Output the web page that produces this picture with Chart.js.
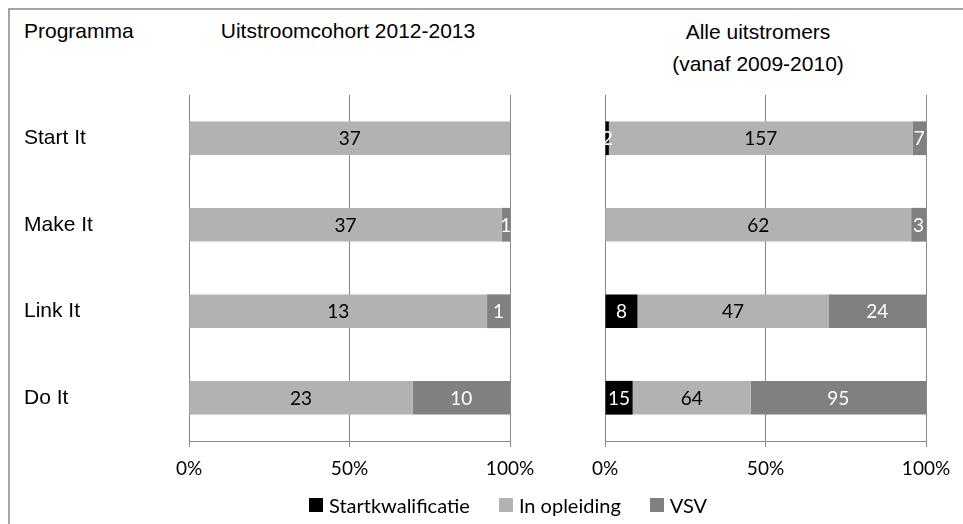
<!DOCTYPE html>
<html>
<head>
<meta charset="utf-8">
<script src="https://cdn.jsdelivr.net/npm/chart.js@4.4.1/dist/chart.umd.min.js"></script>
<style>
  body { margin: 0; background: #fff; }
  #wrap { position: relative; width: 963px; height: 524px; background: #fff; overflow: hidden; }
  #frame { position: absolute; left: 8px; top: 8px; width: 1000px; height: 600px;
           border-top: 2px solid #a6a6a6; border-left: 2px solid #a6a6a6; }
  .hdr { position: absolute; font-family: "Liberation Sans", Arial, sans-serif; font-size: 21px;
         color: #000; white-space: nowrap; line-height: 24px; transform: translate(-50%, -50%); }
  .hdr.left { transform: translate(0, -50%); }
  canvas { position: absolute; top: 0; }
  #legend { position: absolute; left: 309px; top: 493px; display: flex; align-items: center;
            font-family: Lato, sans-serif; font-size: 20px; color: #000; white-space: nowrap; }
  #legend .item { display: flex; align-items: center; margin-right: 29px; }
  #legend .sw { width: 14px; height: 14px; margin-right: 6px; }
</style>
</head>
<body>
<div id="wrap">
  <div id="frame"></div>
  <div class="hdr left" style="left:24px; top:31px;">Programma</div>
  <div class="hdr" style="left:348px; top:31px;">Uitstroomcohort 2012-2013</div>
  <div class="hdr" style="left:758px; top:32px;">Alle uitstromers</div>
  <div class="hdr" style="left:758px; top:64px;">(vanaf 2009-2010)</div>
  <canvas id="leftChart" width="560" height="524" style="left:0px;"></canvas>
  <canvas id="rightChart" width="403" height="524" style="left:560px;"></canvas>
  <div id="legend"></div>
</div>
<script>
var categories = ['Start It', 'Make It', 'Link It', 'Do It'];
var seriesNames = ['Startkwalificatie', 'In opleiding', 'VSV'];
var seriesColors = ['#000000', '#b2b2b2', '#808080'];
var labelColors = ['#ffffff', '#000000', '#ffffff'];
var tickLabels = ['0%', '50%', '100%'];

// Uitstroomcohort 2012-2013
var cohortStart = [0, 0, 0, 0];
var cohortOpleiding = [37, 37, 13, 23];
var cohortVsv = [0, 1, 1, 10];

// Alle uitstromers (vanaf 2009-2010)
var alleStart = [2, 0, 8, 15];
var alleOpleiding = [157, 62, 47, 64];
var alleVsv = [7, 3, 24, 95];

// turn counts into shares of the row total (100% stacked bars)
function toPercent(series) {
    return series.map(function(values) {
        return values.map(function(v, j) {
            var total = 0;
            series.forEach(function(s) { total += s[j]; });
            return total ? v / total * 100 : 0;
        });
    });
}

function makeDatasets(series) {
    var perc = toPercent(series);
    return series.map(function(values, i) {
        return {
            label: seriesNames[i],
            data: perc[i],
            counts: values,
            backgroundColor: seriesColors[i],
            borderWidth: 0,
            categoryPercentage: 1,
            barPercentage: 0.39
        };
    });
}

// draws the counts in the middle of every segment
var countLabels = {
    id: 'countLabels',
    afterDatasetsDraw: function(chart) {
        var ctx = chart.ctx;
        ctx.save();
        ctx.font = '19px Lato';
        ctx.textAlign = 'center';
        ctx.textBaseline = 'middle';
        chart.data.datasets.forEach(function(ds, i) {
            var meta = chart.getDatasetMeta(i);
            meta.data.forEach(function(bar, j) {
                var n = ds.counts[j];
                if (!n) return;
                var p = bar.getProps(['x', 'base', 'y'], true);
                ctx.fillStyle = labelColors[i];
                ctx.fillText(String(n), (p.x + p.base) / 2, p.y + 1);
            });
        });
        ctx.restore();
    }
};

function xScale() {
    return {
        stacked: true,
        min: 0,
        max: 100,
        ticks: {
            stepSize: 50,
            padding: 10,
            color: '#000',
            font: { family: 'Lato', size: 19 },
            maxRotation: 0,
            callback: function(v, index) { return tickLabels[index]; }
        },
        grid: { color: '#888888', lineWidth: 1, tickLength: 6, drawTicks: true },
        border: { display: true, color: '#888888', width: 1 },
        afterFit: function(scale) { scale.height = 40; }
    };
}

function makeChart(id, series, showCategories, padding) {
    var yAxis = {
        stacked: true,
        grid: { display: false },
        border: { display: false },
        display: showCategories,
        ticks: {
            crossAlign: 'far',
            color: '#000',
            font: { family: 'Liberation Sans', size: 21 }
        }
    };
    if (showCategories) {
        yAxis.afterFit = function(scale) { scale.width = 165; };
    }
    return new Chart(document.getElementById(id), {
        type: 'bar',
        data: { labels: categories, datasets: makeDatasets(series) },
        options: {
            indexAxis: 'y',
            responsive: false,
            animation: false,
            layout: { padding: padding },
            plugins: { legend: { display: false }, tooltip: { enabled: false } },
            scales: { x: xScale(), y: yAxis }
        },
        plugins: [countLabels]
    });
}

makeChart('leftChart', [cohortStart, cohortOpleiding, cohortVsv], true,
    { left: 24, right: 50, top: 95, bottom: 43 });
makeChart('rightChart', [alleStart, alleOpleiding, alleVsv], false,
    { left: 45, right: 37, top: 95, bottom: 43 });

// legend
var legend = document.getElementById('legend');
seriesNames.forEach(function(name, i) {
    var item = document.createElement('div');
    item.className = 'item';
    var sw = document.createElement('span');
    sw.className = 'sw';
    sw.style.background = seriesColors[i];
    item.appendChild(sw);
    item.appendChild(document.createTextNode(name));
    legend.appendChild(item);
});
</script>
</body>
</html>
